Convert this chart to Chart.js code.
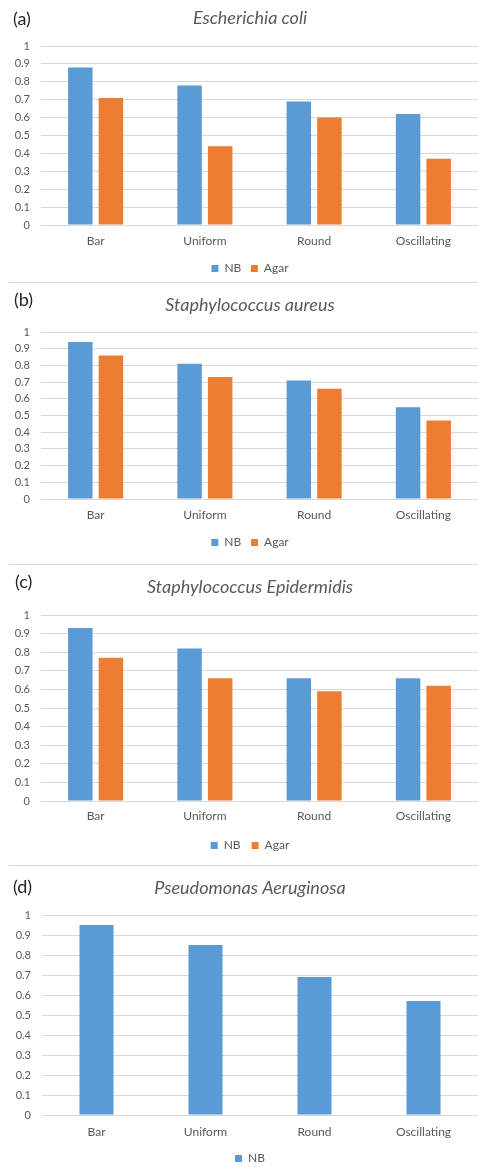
<!DOCTYPE html>
<html>
<head>
<meta charset="utf-8">
<script src="https://cdn.jsdelivr.net/npm/chart.js@4.4.0/dist/chart.umd.min.js"></script>
<style>
  html, body { margin: 0; overflow: hidden; }
  body { background: #fff; width: 478px; height: 1167px; position: relative; font-family: Lato, sans-serif; }
  canvas, .letra, .sep { position: absolute; }
  .letra { font-size: 18px; line-height: 18px; color: #262626; }
  .sep { left: 9px; width: 469px; height: 1px; background: #d9d9d9; }
</style>
</head>
<body>
<canvas id="grafA" width="500" height="283" style="left:0;top:0"></canvas>
<canvas id="grafB" width="500" height="281" style="left:0;top:283px"></canvas>
<canvas id="grafC" width="500" height="301" style="left:0;top:564px"></canvas>
<canvas id="grafD" width="500" height="302" style="left:0;top:865px"></canvas>
<div class="letra" style="left:13px;top:9px">(a)</div>
<div class="letra" style="left:14px;top:290px">(b)</div>
<div class="letra" style="left:15px;top:572px">(c)</div>
<div class="letra" style="left:13px;top:877px">(d)</div>
<div class="sep" style="top:282px"></div>
<div class="sep" style="top:564px"></div>
<div class="sep" style="top:865px"></div>
<script>
// Datos
const categorias = ['Bar', 'Uniform', 'Round', 'Oscillating'];
const ecoliNB = [0.88, 0.78, 0.69, 0.62];
const ecoliAgar = [0.71, 0.44, 0.60, 0.37];
const aureusNB = [0.94, 0.81, 0.71, 0.55];
const aureusAgar = [0.86, 0.73, 0.66, 0.47];
const epiNB = [0.93, 0.82, 0.66, 0.66];
const epiAgar = [0.77, 0.66, 0.59, 0.62];
const pseudoNB = [0.95, 0.85, 0.69, 0.57];

// Estilos
const colorNB = '#5b9bd5';
const colorAgar = '#ed7d31';
const gris = '#595959';

function panel(id, titulo, series, g) {
    const ejeX = g.etiquetaY - g.abajo + 12;
    const legTop = g.abajo + ejeX;
    const legPad = g.leyendaY - legTop - 5.5;
    new Chart(document.getElementById(id), {
        type: 'bar',
        data: {
            labels: categorias,
            datasets: series.map(s => ({
                label: s.nombre,
                data: s.datos,
                backgroundColor: s.color,
                borderWidth: 0
            }))
        },
        options: {
            responsive: false,
            animation: false,
            layout: {
                padding: { left: 0, right: 0, top: 0, bottom: g.alto - (legTop + 21 + legPad) }
            },
            datasets: {
                bar: { categoryPercentage: g.cat, barPercentage: 0.8 }
            },
            scales: {
                x: {
                    grid: { display: false, drawTicks: false },
                    border: { display: false },
                    ticks: { color: gris, font: { family: 'Lato', size: 12 }, padding: g.etiquetaY - g.abajo - 7.2 },
                    afterFit: (s) => { s.height = ejeX; }
                },
                y: {
                    min: 0,
                    max: 1,
                    ticks: {
                        stepSize: 0.1,
                        color: gris,
                        font: { family: 'Lato', size: 11 },
                        padding: 11,
                        callback: (v) => String(Math.round(v * 10) / 10)
                    },
                    grid: { color: '#d9d9d9', drawTicks: false },
                    border: { display: false },
                    afterFit: (s) => { s.width = g.izquierda; }
                },
                // eje vacio a la derecha: deja el area del grafico en 478 px
                relleno: {
                    position: 'right',
                    grid: { display: false },
                    border: { display: false },
                    ticks: { display: false },
                    afterFit: (s) => { s.width = 22; }
                }
            },
            plugins: {
                title: {
                    display: true,
                    text: titulo,
                    color: gris,
                    font: { family: 'Lato', size: 18, style: 'italic', weight: 'normal' },
                    padding: { top: g.tituloY - 10.8, bottom: g.arriba - g.tituloY - 10.8 }
                },
                legend: {
                    position: 'bottom',
                    labels: { boxWidth: 7, boxHeight: 7, padding: legPad, color: gris, font: { family: 'Lato', size: 12 } }
                },
                tooltip: { enabled: false }
            }
        }
    });
}

panel('grafA', 'Escherichia coli',
    [{ nombre: 'NB', datos: ecoliNB, color: colorNB }, { nombre: 'Agar', datos: ecoliAgar, color: colorAgar }],
    { alto: 283, tituloY: 18, arriba: 46, abajo: 226, etiquetaY: 242, leyendaY: 269, izquierda: 41, cat: 0.56 });

panel('grafB', 'Staphylococcus aureus',
    [{ nombre: 'NB', datos: aureusNB, color: colorNB }, { nombre: 'Agar', datos: aureusAgar, color: colorAgar }],
    { alto: 281, tituloY: 22, arriba: 49, abajo: 217, etiquetaY: 232.7, leyendaY: 260, izquierda: 41, cat: 0.56 });

panel('grafC', 'Staphylococcus Epidermidis',
    [{ nombre: 'NB', datos: epiNB, color: colorNB }, { nombre: 'Agar', datos: epiAgar, color: colorAgar }],
    { alto: 301, tituloY: 23, arriba: 51, abajo: 238, etiquetaY: 253.5, leyendaY: 282, izquierda: 41, cat: 0.56 });

panel('grafD', 'Pseudomonas Aeruginosa',
    [{ nombre: 'NB', datos: pseudoNB, color: colorNB }],
    { alto: 302, tituloY: 22.7, arriba: 50, abajo: 251, etiquetaY: 268, leyendaY: 294, izquierda: 42, cat: 0.39 });
</script>
</body>
</html>
